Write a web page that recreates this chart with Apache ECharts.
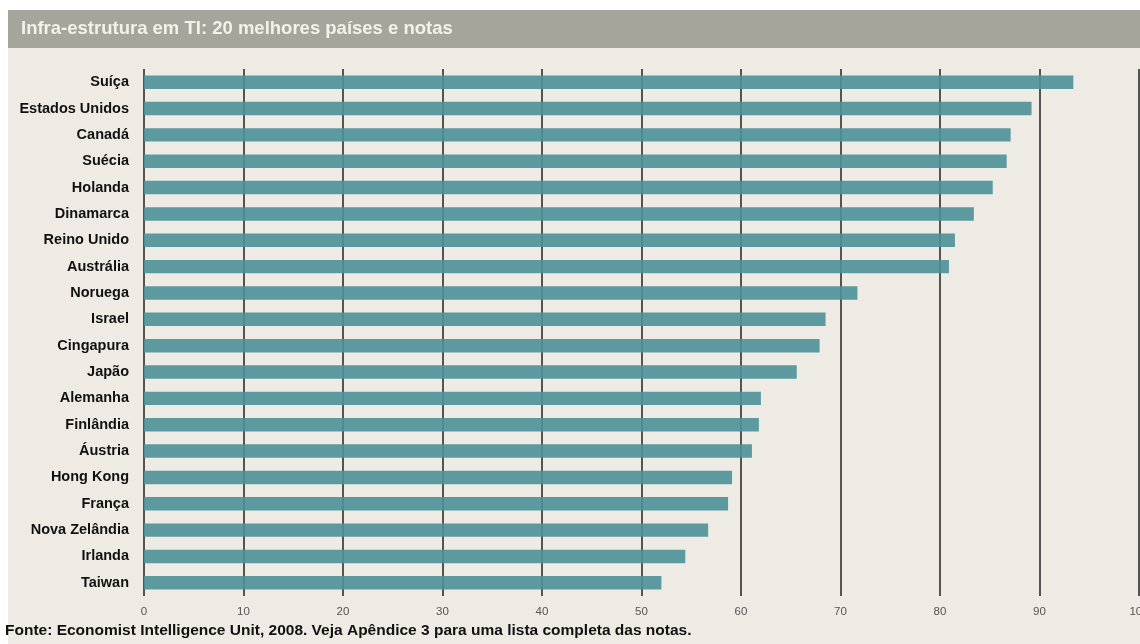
<!DOCTYPE html>
<html><head><meta charset="utf-8">
<script src="https://cdn.jsdelivr.net/npm/echarts@6/dist/echarts.min.js"></script>
<style>html,body{margin:0;padding:0;background:#fff}#c{width:1140px;height:644px}</style>
</head><body><div id="c"></div>
<script>
const titleText = 'Infra-estrutura em TI: 20 melhores países e notas';
const footerText = 'Fonte: Economist Intelligence Unit, 2008. Veja Apêndice 3 para uma lista completa das notas.';
const countries = ['Suíça','Estados Unidos','Canadá','Suécia','Holanda','Dinamarca','Reino Unido','Austrália','Noruega','Israel','Cingapura','Japão','Alemanha','Finlândia','Áustria','Hong Kong','França','Nova Zelândia','Irlanda','Taiwan'];
const scores = [93.4, 89.2, 87.1, 86.7, 85.3, 83.4, 81.5, 80.9, 71.7, 68.5, 67.9, 65.6, 62.0, 61.8, 61.1, 59.1, 58.7, 56.7, 54.4, 52.0];
const axisMin = 0, axisMax = 100, axisStep = 10;

const chart = echarts.init(document.getElementById('c'), null, {renderer:'canvas'});
chart.setOption({
  backgroundColor: '#ffffff',
  animation: false,
  graphic: [
    {type:'rect', z:-10, shape:{x:8, y:10, width:1132, height:634}, style:{fill:'#eeebe5'}},
    {type:'rect', z:-9, shape:{x:8, y:10, width:1132, height:38}, style:{fill:'#a5a59c'}},
    {type:'text', z:5, left:21, top:19, style:{text:titleText, fill:'#f2f2ec', font:'bold 18.5px "Liberation Sans", Arial, sans-serif'}},
    {type:'text', z:5, left:5, top:623, style:{text:footerText, fill:'#111', font:'bold 15.5px "Liberation Sans", Arial, sans-serif'}}
  ],
  grid: {left:144, right:1, top:69, bottom:48, containLabel:false, outerBoundsMode:'none'},
  xAxis: {
    type:'value', min:axisMin, max:axisMax, interval:axisStep,
    axisLine:{show:false}, axisTick:{show:false},
    axisLabel:{color:'#555', fontSize:11.5, fontFamily:'"Liberation Sans", Arial, sans-serif', margin:10},
    splitLine:{show:true, lineStyle:{color:'#222', width:1.5}}
  },
  yAxis: {
    type:'category', data:countries, inverse:true,
    axisLine:{show:false}, axisTick:{show:false},
    axisLabel:{color:'#111', fontSize:14.5, fontWeight:'bold', fontFamily:'"Liberation Sans", Arial, sans-serif', margin:15}
  },
  series: [{
    type:'bar', data:scores, barWidth:'51%',
    itemStyle:{color:'#4b9198', opacity:0.9},
    silent:true
  }]
});
</script></body></html>
